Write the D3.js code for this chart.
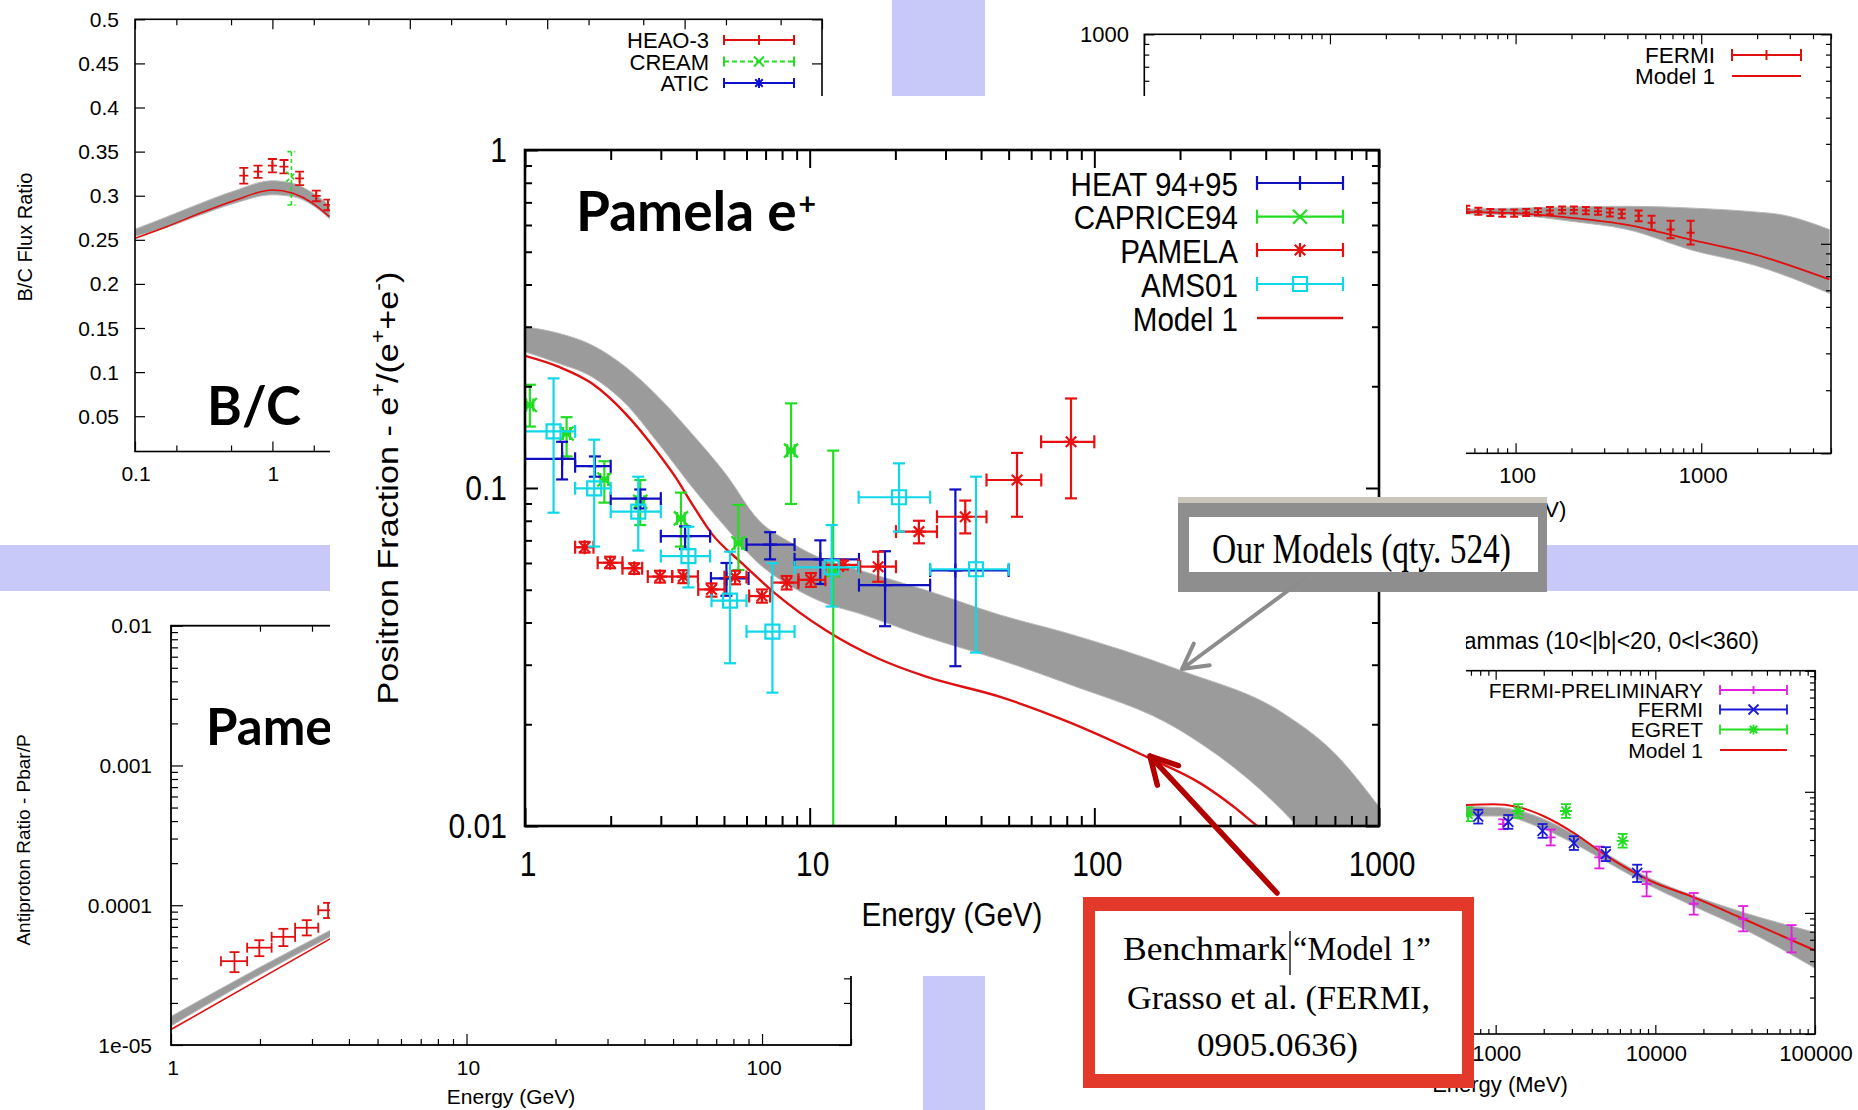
<!DOCTYPE html>
<html>
<head>
<meta charset="utf-8">
<script src="https://cdn.jsdelivr.net/npm/d3@7"></script>
<style>body{margin:0;background:#fff}</style>
</head>
<body>
<svg id="slide" width="1858" height="1110"></svg>
<script>
var SANS = "'Liberation Sans', Arial, Helvetica, sans-serif";
var SERIF = "'Liberation Serif', 'Times New Roman', serif";
var SLIDE = "Lato, 'Open Sans', sans-serif";
var LAV = "#c9c9f9";

// ---------- B/C panel ----------
var bcXTicks = [0.1, 1, 10, 100, 1000, 10000];
var bcXLabels = [0.1, 1];
var bcYTicks = [0.05, 0.1, 0.15, 0.2, 0.25, 0.3, 0.35, 0.4, 0.45, 0.5];
var bcModelE = [0.1, 0.17, 0.2965, 0.518, 1, 1.41, 1.97, 2.6];
var bcModelV = [0.2517, 0.2649, 0.280, 0.294, 0.3065, 0.3027, 0.2914, 0.2762];
var bcBandLo = [0.254, 0.264, 0.278, 0.291, 0.301, 0.299, 0.289, 0.274];
var bcBandHi = [0.262, 0.276, 0.291, 0.305, 0.317, 0.314, 0.303, 0.289];
// rows: energy, e-lo, e-hi, value, v-lo, v-hi
var bcHeao = [
  [0.619, null, null, 0.3227, 0.3138, 0.3316],
  [0.786, null, null, 0.3272, 0.3202, 0.3342],
  [1.0, null, null, 0.334, 0.3264, 0.3416],
  [1.214, null, null, 0.3329, 0.3253, 0.3405],
  [1.578, null, null, 0.3197, 0.3121, 0.3273],
  [2.086, null, null, 0.2997, 0.2937, 0.3057],
  [2.535, null, null, 0.2895, 0.2835, 0.2955]
];
var bcCream = [[1.374, null, null, 0.3216, 0.2895, 0.35]];

// ---------- electron panel (top right) ----------
var trXTicks = [1, 10, 100, 1000];
var trXLabels = [100, 1000];
var trYTicks = [10, 100, 1000];
var trYLabels = [1000];
var trFermiE = [54.3, 63, 73.1, 84.8, 98.3, 114, 132, 153, 178, 206, 239, 278, 322, 373, 460, 540, 684, 877];
var trFermiV = [146, 143, 141, 140, 140, 141, 142, 144, 145, 145, 144, 143, 141, 139, 136, 126, 117, 113];
var trFermiErr = [0.04, 0.04, 0.04, 0.04, 0.04, 0.04, 0.04, 0.04, 0.04, 0.04, 0.04, 0.04, 0.045, 0.05, 0.06, 0.08, 0.1, 0.14];
var trModelE = [50, 100, 200, 400, 900, 1940, 4900];
var trModelV = [142, 140, 133, 123, 104, 89, 67.6];
var trBandE = [50, 100, 200, 400, 900, 1940, 2660, 4900];
var trBandHi = [146, 148, 150, 151, 148, 142, 138, 117];
var trBandLo = [139, 137, 128, 117, 93, 79, 72, 58];

// ---------- positron fraction (main) ----------
var mainXTicks = [1, 10, 100, 1000];
var mainYTicks = [0.01, 0.1, 1];
var heat = [
  [1.35, 1.0, 1.5, 0.122, 0.106, 0.137],
  [1.76, 1.5, 2.0, 0.116, 0.108, 0.124],
  [2.54, 2.0, 3.0, 0.093, 0.087, 0.099],
  [3.65, 3.0, 4.47, 0.072, 0.066, 0.077],
  [5.1, 4.5, 6.1, 0.054, 0.048, 0.060],
  [7.26, 6.0, 8.85, 0.068, 0.0615, 0.074],
  [10.9, 8.85, 14.9, 0.0615, 0.052, 0.070],
  [18.4, 14.9, 26.5, 0.0516, 0.039, 0.065],
  [32.5, 26.5, 50, 0.057, 0.0297, 0.099]
];
var caprice = [
  [1.04, 1.01, 1.07, 0.176, 0.152, 0.202],
  [1.40, 1.36, 1.44, 0.145, 0.124, 0.162],
  [1.90, 1.84, 1.96, 0.106, 0.0905, 0.120],
  [2.54, 2.46, 2.62, 0.091, 0.0777, 0.1056],
  [3.53, 3.42, 3.64, 0.0813, 0.0671, 0.0969],
  [5.62, 5.45, 5.79, 0.0686, 0.0572, 0.0891],
  [8.6, 8.34, 8.86, 0.129, 0.0897, 0.178],
  [12.1, 11.7, 12.5, 0.057, 0.003, 0.129]
];
var pamela = [
  [1.62, 1.5, 1.74, 0.0668, 0.0644, 0.0693],
  [1.99, 1.8, 2.2, 0.0601, 0.0579, 0.0626],
  [2.42, 2.2, 2.58, 0.0579, 0.0557, 0.0599],
  [2.98, 2.7, 3.29, 0.0547, 0.0525, 0.0569],
  [3.6, 3.29, 4.05, 0.0547, 0.0523, 0.0571],
  [4.52, 4.06, 5.02, 0.0501, 0.0477, 0.0522],
  [5.47, 5.02, 6.0, 0.0545, 0.0519, 0.0569],
  [6.8, 6.13, 7.26, 0.0479, 0.0458, 0.0501],
  [8.3, 7.36, 9.13, 0.0525, 0.0501, 0.0549],
  [10.1, 9.13, 11.35, 0.0535, 0.051, 0.056],
  [13.1, 11.35, 14.8, 0.0592, 0.0575, 0.061],
  [17.4, 15.05, 20.1, 0.0585, 0.0528, 0.0648],
  [24.2, 20.1, 28, 0.0743, 0.0686, 0.080],
  [35.2, 28, 41.8, 0.0822, 0.0734, 0.0918],
  [53.5, 41.8, 65.1, 0.1056, 0.0822, 0.127],
  [82.8, 65.0, 100, 0.137, 0.0932, 0.184]
];
var ams01 = [
  [1.26, 1.0, 1.5, 0.147, 0.0845, 0.211],
  [1.75, 1.5, 2.0, 0.0998, 0.0671, 0.139],
  [2.5, 2.0, 3.0, 0.0851, 0.0653, 0.108],
  [3.75, 3.0, 4.47, 0.0629, 0.0508, 0.0768],
  [5.25, 4.52, 6.0, 0.0464, 0.0303, 0.0648],
  [7.4, 6.0, 8.85, 0.0376, 0.0248, 0.0599],
  [11.95, 8.85, 14.86, 0.0582, 0.0446, 0.0777],
  [20.6, 14.86, 26.5, 0.0939, 0.0743, 0.1183],
  [38.4, 26.5, 50, 0.0575, 0.0326, 0.108]
];
var mainModelE = [1, 1.31, 1.715, 2.25, 2.94, 3.37, 3.85, 4.52, 5.78, 7.56, 11.35, 17.4, 25.5, 46.7, 80.2, 153, 236, 309, 373, 600];
var mainModelV = [0.246, 0.2285, 0.204, 0.1663, 0.1266, 0.108, 0.0901, 0.0734, 0.0599, 0.0488, 0.038, 0.0313, 0.0277, 0.0241, 0.0204, 0.016, 0.01337, 0.0114, 0.01, 0.0075];
var mainBandE = [1, 1.31, 1.715, 2.25, 2.94, 3.85, 5.05, 6.61, 8.66, 11.35, 14.86, 25.5, 46.7, 80.2, 200, 463, 694, 1000];
var mainBandHi = [0.300, 0.287, 0.265, 0.2285, 0.186, 0.145, 0.1105, 0.0804, 0.0686, 0.0612, 0.0572, 0.0499, 0.0421, 0.0372, 0.0289, 0.0215, 0.0165, 0.0114];
var mainBandLo = [0.253, 0.234, 0.2135, 0.178, 0.1356, 0.101, 0.0768, 0.0599, 0.051, 0.0456, 0.0426, 0.0363, 0.031, 0.0264, 0.0192, 0.011, 0.0075, 0.0055];

// ---------- antiproton panel ----------
var pbXTicks = [1, 10, 100];
var pbYTicks = [1e-5, 1e-4, 1e-3, 1e-2];
var pbYLabels = ["1e-05", "0.0001", "0.001", "0.01"];
var pbData = [
  [1.64, 1.476, 1.81, 3.98e-5, 3.32e-5, 4.62e-5],
  [1.99, 1.81, 2.19, 4.97e-5, 4.32e-5, 5.62e-5],
  [2.40, 2.19, 2.63, 5.94e-5, 5.10e-5, 6.78e-5],
  [2.88, 2.63, 3.15, 6.90e-5, 6.08e-5, 7.82e-5],
  [3.40, 3.15, 3.70, 9.20e-5, 8.10e-5, 1.04e-4]
];
var pbModelE = [1, 2, 3.5];
var pbModelV = [1.29e-5, 2.97e-5, 5.84e-5];
var pbBandLo = [1.37e-5, 3.2e-5, 6.05e-5];
var pbBandHi = [1.6e-5, 3.6e-5, 6.7e-5];

// ---------- gamma panel ----------
var gmXTicks = [100, 1000, 10000, 100000];
var gmXLabels = [1000, 10000, 100000];
var gmYTicks = [1e-5, 1e-4, 1e-3, 1e-2];
var gmPrelim = [
  [1116, null, null, 5.4e-4, 4.91e-4, 5.93e-4],
  [2210, null, null, 4.2e-4, 3.61e-4, 4.88e-4],
  [4460, null, null, 2.87e-4, 2.33e-4, 3.53e-4],
  [8820, null, null, 1.73e-4, 1.37e-4, 2.19e-4],
  [17400, null, null, 1.19e-4, 9.67e-5, 1.46e-4],
  [35500, null, null, 8.95e-5, 7.04e-5, 1.14e-4],
  [71300, null, null, 6.12e-5, 4.72e-5, 7.93e-5]
];
var gmFermi = [
  [778, null, null, 6.24e-4, 5.47e-4, 7.11e-4],
  [1200, null, null, 5.64e-4, 4.95e-4, 6.43e-4],
  [1967, null, null, 4.75e-4, 4.17e-4, 5.42e-4],
  [3090, null, null, 3.77e-4, 3.31e-4, 4.30e-4],
  [4900, null, null, 3.06e-4, 2.68e-4, 3.49e-4],
  [7700, null, null, 2.14e-4, 1.80e-4, 2.50e-4]
];
var gmEgret = [
  [673, null, null, 6.52e-4, 5.72e-4, 7.43e-4],
  [1385, null, null, 6.94e-4, 6.09e-4, 7.91e-4],
  [2755, null, null, 6.94e-4, 6.09e-4, 7.91e-4],
  [6240, null, null, 3.94e-4, 3.46e-4, 4.49e-4]
];
var gmModelE = [643, 966, 1353, 1987, 3060, 4954, 9245, 17260, 35500, 100000];
var gmModelV = [7.78e-4, 7.88e-4, 7.54e-4, 6.31e-4, 4.61e-4, 2.96e-4, 1.85e-4, 1.35e-4, 8.95e-5, 4.9e-5];
var gmBandE = [643, 1064, 1894, 3062, 4955, 9250, 17270, 35500, 100000];
var gmBandHi = [7.54e-4, 7.40e-4, 6.12e-4, 4.47e-4, 3.06e-4, 1.93e-4, 1.39e-4, 1.01e-4, 6.9e-5];
var gmBandLo = [6.3e-4, 6.31e-4, 5.07e-4, 3.77e-4, 2.64e-4, 1.68e-4, 1.14e-4, 7.4e-5, 3.5e-5];

// ================= helpers =================
var svg = d3.select("#slide");
var defs = svg.append("defs");

function clipRect(id, x, y, w, h) {
  defs.append("clipPath").attr("id", id).append("rect")
    .attr("x", x).attr("y", y).attr("width", w).attr("height", h);
  return "url(#" + id + ")";
}

function logTicks(lo, hi, mult) {
  var out = [];
  for (var k = Math.floor(Math.log10(lo)); k <= Math.ceil(Math.log10(hi)); k++)
    mult.forEach(function(m) {
      var v = m * Math.pow(10, k);
      if (v >= lo * 0.999 && v <= hi * 1.001) out.push(v);
    });
  return out;
}

// ticks on four sides, pointing in, plus the box
function frame(g, x, y, o) {
  var xr = x.range(), yr = y.range();
  function add(axis, tx, ty, vals, len) {
    g.append("g").attr("transform", "translate(" + tx + "," + ty + ")")
      .call(axis.tickValues(vals).tickSize(-len).tickFormat(""))
      .call(function(s) { s.select(".domain").remove(); })
      .call(function(s) { s.selectAll("line").attr("stroke", "#000").attr("stroke-width", o.tw); });
  }
  add(d3.axisBottom(x), 0, yr[0], o.xMinor, o.xMin);
  add(d3.axisBottom(x), 0, yr[0], o.xMajor, o.xMaj);
  add(d3.axisTop(x), 0, yr[1], o.xMinor, o.xMin);
  add(d3.axisTop(x), 0, yr[1], o.xMajor, o.xMaj);
  add(d3.axisLeft(y), xr[0], 0, o.yMinor, o.yMin);
  add(d3.axisLeft(y), xr[0], 0, o.yMajor, o.yMaj);
  add(d3.axisRight(y), xr[1], 0, o.yMinor, o.yMin);
  add(d3.axisRight(y), xr[1], 0, o.yMajor, o.yMaj);
  g.append("rect").attr("x", xr[0]).attr("y", yr[1])
    .attr("width", xr[1] - xr[0]).attr("height", yr[0] - yr[1])
    .attr("fill", "none").attr("stroke", "#000").attr("stroke-width", o.fw);
}

// text; parts = string or [[str, sup, dx], ...]
function txt(g, x, y, parts, o) {
  var tr = "translate(" + x + "," + y + ")" + (o.rot ? " rotate(" + o.rot + ")" : "") + (o.sx ? " scale(" + o.sx + ",1)" : "");
  var t = g.append("g").attr("transform", tr).append("text")
    .attr("text-anchor", o.anchor || "start")
    .attr("font-family", o.font || SANS).attr("font-size", o.size)
    .attr("fill", o.fill || "#000");
  if (o.weight) t.attr("font-weight", o.weight);
  if (o.len) t.attr("textLength", o.len).attr("lengthAdjust", "spacingAndGlyphs");
  if (typeof parts === "string") { t.text(parts); return t; }
  var up = o.size * (o.sup || 0.42), cur = 0;
  parts.forEach(function(p) {
    var target = p[1] ? -up : 0;
    var ts = t.append("tspan").attr("dy", target - cur).text(p[0]);
    if (p[2]) ts.attr("dx", p[2]);
    if (p[1]) ts.attr("font-size", o.size * (o.supSize || 0.68));
    cur = target;
  });
  return t;
}

function markPath(t, s) {
  var plus = "M" + (-s) + ",0H" + s + "M0," + (-s) + "V" + s;
  var c = s * 0.75;
  var cross = "M" + (-s) + "," + (-s) + "L" + s + "," + s + "M" + (-s) + "," + s + "L" + s + "," + (-s);
  var crossS = "M" + (-c) + "," + (-c) + "L" + c + "," + c + "M" + (-c) + "," + c + "L" + c + "," + (-c);
  if (t === "+") return plus;
  if (t === "x") return cross;
  if (t === "*") return plus + crossS;
  if (t === "sq") return "M" + (-s) + "," + (-s) + "H" + s + "V" + s + "H" + (-s) + "Z";
  return "";
}

function errorBars(g, rows, x, y, st) {
  var grp = g.append("g").attr("stroke", st.color).attr("stroke-width", st.w).attr("fill", "none");
  if (st.dash) grp.attr("stroke-dasharray", st.dash);
  grp.selectAll("g").data(rows).join("g").each(function(d) {
    var s = d3.select(this), cx = x(d[0]), cy = y(d[3]);
    if (d[1] !== null) {
      s.append("line").attr("x1", x(d[1])).attr("x2", x(d[2])).attr("y1", cy).attr("y2", cy);
      [d[1], d[2]].forEach(function(e) {
        s.append("line").attr("x1", x(e)).attr("x2", x(e)).attr("y1", cy - st.hcap).attr("y2", cy + st.hcap);
      });
    }
    s.append("line").attr("x1", cx).attr("x2", cx).attr("y1", y(d[4])).attr("y2", y(d[5]));
    [d[4], d[5]].forEach(function(e) {
      s.append("line").attr("x1", cx - st.vcap).attr("x2", cx + st.vcap).attr("y1", y(e)).attr("y2", y(e));
    });
    if (st.mark) s.append("path").attr("d", markPath(st.mark, st.ms))
      .attr("transform", "translate(" + cx + "," + cy + ")").attr("stroke-dasharray", null);
  });
}

function curve(g, x, y, xs, ys, color, w) {
  g.append("path").datum(d3.zip(xs, ys))
    .attr("fill", "none").attr("stroke", color).attr("stroke-width", w)
    .attr("d", d3.line().x(function(d) { return x(d[0]); }).y(function(d) { return y(d[1]); }).curve(d3.curveMonotoneX));
}

function band(g, x, y, xs, lo, hi) {
  g.append("path").datum(d3.zip(xs, lo, hi))
    .attr("fill", "#9b9b9b").attr("stroke", "#b8b8b8").attr("stroke-width", 1)
    .attr("d", d3.area().x(function(d) { return x(d[0]); })
      .y0(function(d) { return y(d[1]); }).y1(function(d) { return y(d[2]); }).curve(d3.curveMonotoneX));
}

// legend sample: line with end caps and a marker in the middle
function sample(g, xa, xb, yy, st) {
  var s = g.append("g").attr("stroke", st.color).attr("stroke-width", st.w).attr("fill", "none");
  var ln = s.append("line").attr("x1", xa).attr("x2", xb).attr("y1", yy).attr("y2", yy);
  if (st.dash) ln.attr("stroke-dasharray", st.dash);
  if (st.caps) [xa, xb].forEach(function(e) {
    s.append("line").attr("x1", e).attr("x2", e).attr("y1", yy - st.caps).attr("y2", yy + st.caps);
  });
  if (st.mark) s.append("path").attr("d", markPath(st.mark, st.ms))
    .attr("transform", "translate(" + ((xa + xb) / 2) + "," + yy + ")");
}

function fmtNum(v) { return String(+v.toPrecision(6)); }

// ================= slide background =================
svg.append("rect").attr("width", 1858).attr("height", 1110).attr("fill", "#fff");
svg.append("rect").attr("x", 892).attr("y", 0).attr("width", 93).attr("height", 1110).attr("fill", LAV);
svg.append("rect").attr("x", 0).attr("y", 545).attr("width", 1858).attr("height", 46).attr("fill", LAV);

// ================= B/C panel =================
(function() {
  var g = svg.append("g");
  g.append("rect").attr("x", 0).attr("y", 0).attr("width", 892).attr("height", 545).attr("fill", "#fff");
  var x = d3.scaleLog().domain([0.1, 10000]).range([135, 822]);
  var y = d3.scaleLinear().domain([0.01, 0.5]).range([451.5, 19.3]);
  var data = g.append("g").attr("clip-path", clipRect("clipBC", 135, 19.3, 687, 432.2));
  band(data, x, y, bcModelE, bcBandLo, bcBandHi);
  curve(data, x, y, bcModelE, bcModelV, "#e01010", 1.6);
  errorBars(data, bcHeao, x, y, { color: "#e01010", w: 1.8, vcap: 4.5, hcap: 0, mark: "+", ms: 4.5 });
  errorBars(data, bcCream, x, y, { color: "#22dd22", w: 1.6, vcap: 4, hcap: 0, mark: "x", ms: 5, dash: "4,3" });
  frame(g, x, y, { xMajor: bcXTicks, xMinor: logTicks(0.1, 10000, [2, 5]), yMajor: bcYTicks, yMinor: [],
    xMaj: 10, xMin: 6, yMaj: 10, yMin: 5, tw: 1.2, fw: 1.6 });
  bcYTicks.forEach(function(v) { txt(g, 119, y(v) + 7.5, fmtNum(v), { size: 21, anchor: "end" }); });
  bcXLabels.forEach(function(v) { txt(g, x(v) + 1, 480.5, fmtNum(v), { size: 21, anchor: "middle" }); });
  txt(g, 31.5, 237, "B/C Flux Ratio", { size: 20, anchor: "middle", rot: -90 });
  // legend
  txt(g, 709, 48, "HEAO-3", { size: 22, anchor: "end" });
  txt(g, 709, 69.5, "CREAM", { size: 22, anchor: "end" });
  txt(g, 709, 91, "ATIC", { size: 22, anchor: "end" });
  sample(g, 724, 794, 40, { color: "#e01010", w: 2, caps: 5, mark: "+", ms: 5 });
  sample(g, 724, 794, 61.5, { color: "#22dd22", w: 2, caps: 5, mark: "x", ms: 5, dash: "5,3" });
  sample(g, 724, 794, 83, { color: "#1010d0", w: 2, caps: 5, mark: "*", ms: 5 });
  txt(g, 207, 425, "B/C", { size: 53, font: SLIDE, weight: 700 });
})();

// ================= electron panel (top right) =================
(function() {
  var g = svg.append("g");
  g.append("rect").attr("x", 985).attr("y", 0).attr("width", 873).attr("height", 545).attr("fill", "#fff");
  var x = d3.scaleLog().domain([1, 5000]).range([1144.3, 1831]);
  var y = d3.scaleLog().domain([10, 1000]).range([453.3, 34.3]);
  var data = g.append("g").attr("clip-path", clipRect("clipTR", 1144.3, 34.3, 686.7, 419));
  band(data, x, y, trBandE, trBandLo, trBandHi);
  curve(data, x, y, trModelE, trModelV, "#e01010", 1.8);
  var rows = trFermiE.map(function(e, i) {
    return [e, null, null, trFermiV[i], trFermiV[i] / (1 + trFermiErr[i]), trFermiV[i] * (1 + trFermiErr[i])];
  });
  errorBars(data, rows, x, y, { color: "#e01010", w: 2, vcap: 4, hcap: 0, mark: "+", ms: 4 });
  frame(g, x, y, { xMajor: trXTicks, xMinor: logTicks(1, 5000, [2, 3, 4, 5, 6, 7, 8, 9]),
    yMajor: trYTicks, yMinor: logTicks(10, 1000, [2, 3, 4, 5, 6, 7, 8, 9]),
    xMaj: 10, xMin: 5, yMaj: 10, yMin: 5, tw: 1.2, fw: 1.6 });
  trYLabels.forEach(function(v) { txt(g, 1129, y(v) + 8, fmtNum(v), { size: 22, anchor: "end" }); });
  trXLabels.forEach(function(v) { txt(g, x(v) + 2, 483, fmtNum(v), { size: 22, anchor: "middle" }); });
  txt(g, 1499, 517, "Energy (GeV)", { size: 22, anchor: "middle" });
  txt(g, 1715, 63, "FERMI", { size: 22.5, anchor: "end" });
  txt(g, 1715, 84, "Model 1", { size: 22.5, anchor: "end" });
  sample(g, 1732, 1801, 55, { color: "#e01010", w: 2, caps: 6, mark: "+", ms: 5 });
  sample(g, 1732, 1801, 76, { color: "#e01010", w: 2 });
})();

// ================= antiproton panel =================
(function() {
  var g = svg.append("g");
  g.append("rect").attr("x", 0).attr("y", 591).attr("width", 923).attr("height", 519).attr("fill", "#fff");
  var x = d3.scaleLog().domain([1, 200]).range([171, 851]);
  var y = d3.scaleLog().domain([1e-5, 1e-2]).range([1045, 625.7]);
  var data = g.append("g").attr("clip-path", clipRect("clipPB", 171, 625.7, 680, 419.3));
  band(data, x, y, pbModelE, pbBandLo, pbBandHi);
  curve(data, x, y, pbModelE, pbModelV, "#e01010", 1.6);
  errorBars(data, pbData, x, y, { color: "#e01010", w: 1.8, vcap: 5, hcap: 5 });
  frame(g, x, y, { xMajor: pbXTicks, xMinor: logTicks(1, 200, [2, 3, 4, 5, 6, 7, 8, 9]),
    yMajor: pbYTicks, yMinor: logTicks(1e-5, 1e-2, [2, 3, 4, 5, 6, 7, 8, 9]),
    xMaj: 11, xMin: 6, yMaj: 12, yMin: 7, tw: 1.2, fw: 1.8 });
  pbYTicks.forEach(function(v, i) { txt(g, 152, y(v) + 7.5, pbYLabels[i], { size: 21, anchor: "end" }); });
  pbXTicks.forEach(function(v) { txt(g, x(v) + 2, 1074.5, fmtNum(v), { size: 21, anchor: "middle" }); });
  txt(g, 511, 1104, "Energy (GeV)", { size: 21, anchor: "middle" });
  txt(g, 29.5, 840, "Antiproton Ratio - Pbar/P", { size: 19, anchor: "middle", rot: -90 });
  txt(g, 206, 745, "Pamela", { size: 51, font: SLIDE, weight: 700 });
})();

// ================= gamma panel =================
(function() {
  var g = svg.append("g");
  g.append("rect").attr("x", 985).attr("y", 591).attr("width", 873).attr("height", 519).attr("fill", "#fff");
  var x = d3.scaleLog().domain([100, 100000]).range([1336, 1815]);
  var y = d3.scaleLog().domain([1e-5, 1e-2]).range([1034, 670.7]);
  var data = g.append("g").attr("clip-path", clipRect("clipGM", 1336, 670.7, 479, 363.3));
  band(data, x, y, gmBandE, gmBandLo, gmBandHi);
  curve(data, x, y, gmModelE, gmModelV, "#e01010", 2);
  errorBars(data, gmPrelim, x, y, { color: "#e020e0", w: 1.8, vcap: 5, hcap: 0, mark: "+", ms: 5 });
  errorBars(data, gmFermi, x, y, { color: "#1a1ad8", w: 1.8, vcap: 5, hcap: 0, mark: "x", ms: 5 });
  errorBars(data, gmEgret, x, y, { color: "#22dd22", w: 1.8, vcap: 5, hcap: 0, mark: "*", ms: 6 });
  frame(g, x, y, { xMajor: gmXTicks, xMinor: logTicks(100, 100000, [2, 3, 4, 5, 6, 7, 8, 9]),
    yMajor: gmYTicks, yMinor: logTicks(1e-5, 1e-2, [2, 3, 4, 5, 6, 7, 8, 9]),
    xMaj: 9, xMin: 5, yMaj: 10, yMin: 5, tw: 1.2, fw: 1.6 });
  gmXLabels.forEach(function(v) { txt(g, x(v) + 1, 1061, fmtNum(v), { size: 22, anchor: "middle" }); });
  txt(g, 1500, 1092, "Energy (MeV)", { size: 22, anchor: "middle" });
  txt(g, 1759, 649, "Gammas (10<|b|<20, 0<l<360)", { size: 23, anchor: "end", len: 313 });
  var rowsY = [690, 709.5, 729.5, 750];
  ["FERMI-PRELIMINARY", "FERMI", "EGRET", "Model 1"].forEach(function(s, i) {
    txt(g, 1703, rowsY[i] + 7.5, s, { size: 21, anchor: "end" });
  });
  sample(g, 1720, 1787, rowsY[0], { color: "#e020e0", w: 1.8, caps: 5, mark: "+", ms: 4 });
  sample(g, 1720, 1787, rowsY[1], { color: "#1a1ad8", w: 1.8, caps: 5, mark: "x", ms: 5 });
  sample(g, 1720, 1787, rowsY[2], { color: "#22dd22", w: 1.8, caps: 5, mark: "*", ms: 5 });
  sample(g, 1720, 1787, rowsY[3], { color: "#e01010", w: 2.2 });
})();

// ================= main positron fraction chart =================
(function() {
  var g = svg.append("g");
  g.append("rect").attr("x", 330).attr("y", 96).attr("width", 1136).attr("height", 880).attr("fill", "#fff");
  var x = d3.scaleLog().domain([1, 1000]).range([525, 1379]);
  var y = d3.scaleLog().domain([0.01, 1]).range([826, 150]);
  var data = g.append("g").attr("clip-path", clipRect("clipMain", 525, 150, 854, 676));
  band(data, x, y, mainBandE, mainBandLo, mainBandHi);
  curve(data, x, y, mainModelE, mainModelV, "#e01010", 2.4);
  var stHeat = { color: "#1010c0", w: 2.2, vcap: 6, hcap: 6.5, mark: "+", ms: 7 };
  var stCap = { color: "#22dd22", w: 2.2, vcap: 6, hcap: 6.5, mark: "x", ms: 7 };
  var stPam = { color: "#e81010", w: 2.2, vcap: 6, hcap: 6.5, mark: "*", ms: 7 };
  var stAms = { color: "#10d8e8", w: 2.2, vcap: 6, hcap: 6.5, mark: "sq", ms: 7 };
  errorBars(data, caprice, x, y, stCap);
  errorBars(data, heat, x, y, stHeat);
  errorBars(data, pamela, x, y, stPam);
  errorBars(data, ams01, x, y, stAms);
  frame(g, x, y, { xMajor: mainXTicks, xMinor: logTicks(1, 1000, [2, 3, 4, 5, 6, 7, 8, 9]),
    yMajor: mainYTicks, yMinor: logTicks(0.01, 1, [2, 3, 4, 5, 6, 7, 8, 9]),
    xMaj: 18, xMin: 10, yMaj: 13, yMin: 7, tw: 2, fw: 2.6 });
  mainYTicks.forEach(function(v) { txt(g, 507, y(v) + 12, fmtNum(v), { size: 34.5, anchor: "end", sx: 0.87 }); });
  mainXTicks.forEach(function(v) { txt(g, x(v) + 3, 876, fmtNum(v), { size: 34.5, anchor: "middle", sx: 0.87 }); });
  txt(g, 952, 926, "Energy (GeV)", { size: 34, anchor: "middle", sx: 0.87 });
  txt(g, 398, 488, [["Positron Fraction - e", 0], ["+", 1], ["/(e", 0], ["+", 1], ["+e", 0], ["-", 1], [")", 0]],
    { size: 30, anchor: "middle", rot: -90, sx: 1.14 });
  // legend
  var rowsY = [183, 216.7, 250, 284, 318];
  var names = ["HEAT 94+95", "CAPRICE94", "PAMELA", "AMS01", "Model 1"];
  var sts = [stHeat, stCap, stPam, stAms, null];
  names.forEach(function(s, i) {
    txt(g, 1238, rowsY[i] + 12.5, s, { size: 34, anchor: "end", sx: 0.87 });
    if (sts[i]) sample(g, 1257, 1343, rowsY[i], { color: sts[i].color, w: 2.2, caps: 7, mark: sts[i].mark, ms: 7 });
    else sample(g, 1257, 1343, rowsY[i], { color: "#e01010", w: 2.4 });
  });
  txt(g, 576, 231, [["Pamela", 0], ["e", 0, 13], ["+", 1, 2]],
    { size: 55, font: SLIDE, weight: 700, sup: 0.3, supSize: 0.55 });
})();

// ================= annotations =================
(function() {
  var g = svg.append("g");
  // "Our Models" callout
  g.append("rect").attr("x", 1178).attr("y", 497).attr("width", 369).attr("height", 95).attr("fill", "#8e8e8e");
  g.append("rect").attr("x", 1178).attr("y", 497).attr("width", 369).attr("height", 6).attr("fill", "#c9c6bc");
  g.append("rect").attr("x", 1189).attr("y", 517).attr("width", 349).attr("height", 55).attr("fill", "#fff");
  txt(g, 1212, 563, "Our Models (qty. 524)", { size: 42, font: SERIF, len: 299 });

  function arrow(x1, y1, x2, y2, color, w, head) {
    var a = Math.atan2(y2 - y1, x2 - x1);
    var p = "M" + x1 + "," + y1 + "L" + x2 + "," + y2;
    [-0.5, 0.5].forEach(function(d) {
      p += "M" + x2 + "," + y2 + "L" + (x2 - head * Math.cos(a + d)) + "," + (y2 - head * Math.sin(a + d));
    });
    g.append("path").attr("d", p).attr("fill", "none").attr("stroke", color)
      .attr("stroke-width", w).attr("stroke-linecap", "round");
  }
  arrow(1305, 578, 1182, 669, "#8c8c8c", 4, 28);

  // Benchmark box
  g.append("rect").attr("x", 1083).attr("y", 897).attr("width", 391).attr("height", 191).attr("fill", "#e2392b");
  g.append("rect").attr("x", 1095).attr("y", 911).attr("width", 367).attr("height", 163).attr("fill", "#fff");
  txt(g, 1123, 960, "Benchmark", { size: 34, font: SERIF, len: 164 });
  g.append("line").attr("x1", 1290).attr("x2", 1290).attr("y1", 931).attr("y2", 975).attr("stroke", "#222").attr("stroke-width", 1.5);
  txt(g, 1293, 960, "\u201CModel 1\u201D", { size: 34, font: SERIF, len: 138 });
  txt(g, 1278.5, 1009, "Grasso et al. (FERMI,", { size: 34, font: SERIF, anchor: "middle", len: 303 });
  txt(g, 1277.5, 1056, "0905.0636)", { size: 34, font: SERIF, anchor: "middle", len: 161 });
  arrow(1277, 893, 1150, 756, "#b30000", 5.5, 30);
})();
</script>
</body>
</html>
